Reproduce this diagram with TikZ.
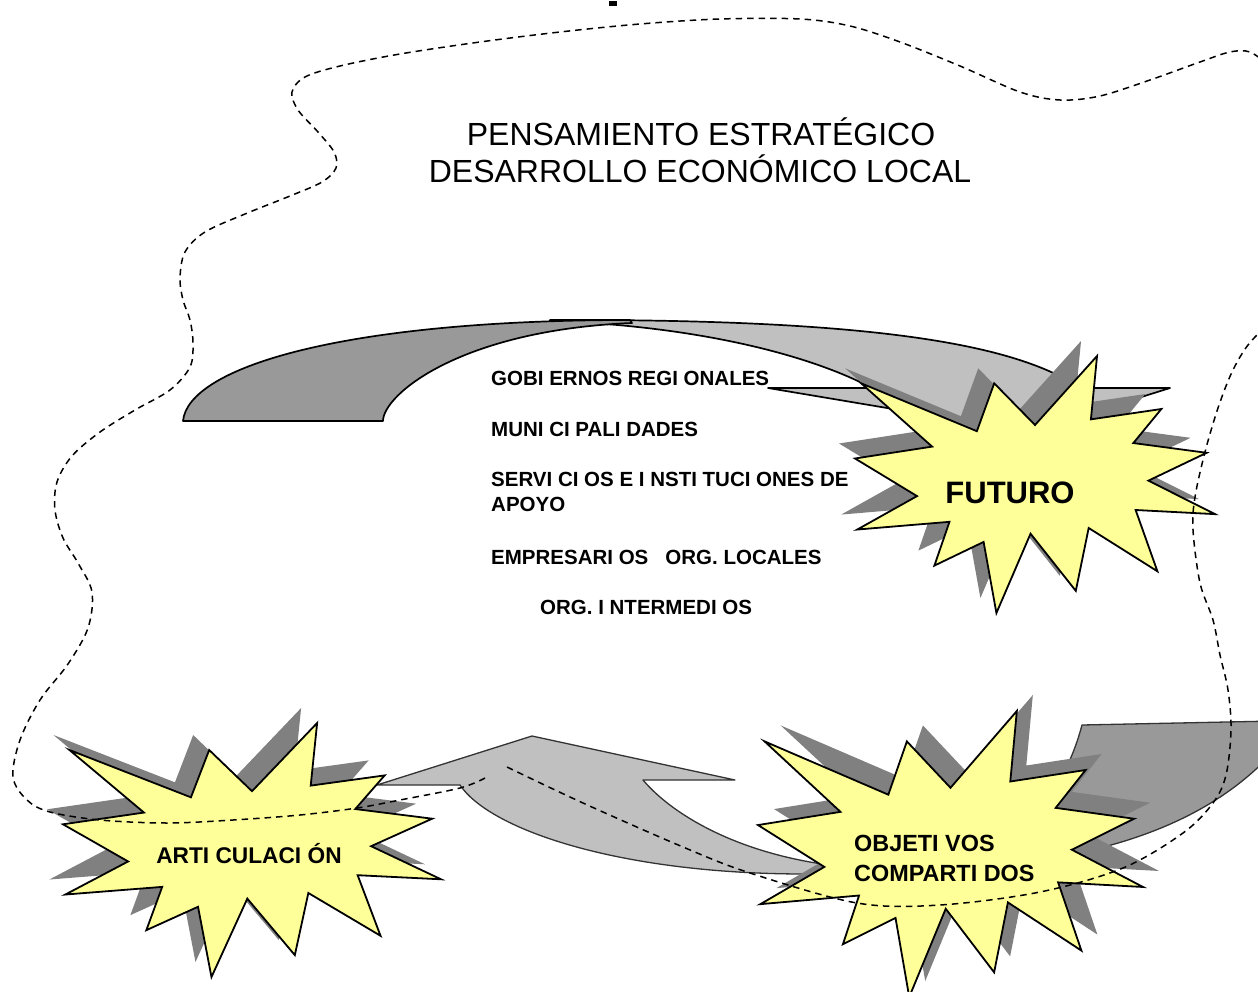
\documentclass[tikz,border=0pt]{standalone}
\usepackage{fontspec}
\setmainfont{Liberation Sans}
\definecolor{starfill}{HTML}{FFFF99}
\definecolor{shadowgray}{HTML}{808080}
\definecolor{darkband}{HTML}{999999}
\definecolor{lightband}{HTML}{C0C0C0}
\newcommand{\sealshape}[5]{%
\begin{scope}[shift={(#1,#2)},xscale=#3,yscale=#4]
\path[#5] (0.5,0.2685) -- (0.6723,0) -- (0.6553,0.2465) -- (0.8509,0.2063) -- (0.7732,0.3387) -- (0.9767,0.3767) -- (0.8151,0.4850) -- (1,0.6153) -- (0.7795,0.5992) -- (0.8400,0.8377) -- (0.6491,0.6693) -- (0.6133,0.9138) -- (0.4876,0.6914) -- (0.3928,1) -- (0.3572,0.7235) -- (0.2205,0.8156) -- (0.2624,0.6452) -- (0.00625,0.6753) -- (0.1723,0.5451) -- (0,0.3988) -- (0.2142,0.3526) -- (0.0171,0.1063) -- (0.3385,0.2926) -- (0.3867,0.1063) -- cycle;
\end{scope}}
\tikzset{
  listtext/.style={anchor=base west, inner sep=0pt, font=\fontsize{20.5}{24}\selectfont\bfseries},
  titletext/.style={anchor=base, inner sep=0pt, font=\fontsize{32}{37}\selectfont},
  startext/.style={anchor=base, inner sep=0pt},
  bandline/.style={line width=1.7pt, line join=round, draw=black},
  lowband/.style={line width=1.3pt, line join=round, draw=black!80},
  starline/.style={fill=starfill, draw=black, line width=1.8pt},
  outline/.style={line width=1.5pt, dash pattern=on 6.5pt off 5pt},
}
\begin{document}
\begin{tikzpicture}[x=1pt,y=-1pt]
\useasboundingbox (0,0) rectangle (1258,992);
\clip (0,0) rectangle (1258,992);
% small mark at top
\fill (609,1) rectangle (617,6);
% upper curved arrow
\path[bandline, fill=lightband] (550,320) .. controls (850,319) and (1010,340) .. (1080,388) -- (1170,388) -- (1030,432) -- (768,388) -- (872,388) .. controls (800,350) and (680,325) .. (550,321) -- cycle;
\path[bandline, fill=darkband] (183,421) .. controls (188,368) and (340,320) .. (630,320) -- (632,323) .. controls (460,330) and (383,395) .. (383,421) -- cycle;
% lower curved arrow
\path[lowband, fill=lightband] (377,785) -- (532,736) -- (735,780) -- (643,780) .. controls (670,812) and (730,850) .. (822,864) -- (845,878) -- (805,874) .. controls (620,874) and (490,830) .. (460,785) -- cycle;
% right dark arrow
\path[lowband, fill=darkband] (1082,725) -- (1275,721) -- (1275,750) .. controls (1230,800) and (1170,830) .. (1100,848) -- (1040,865) -- (1020,830) .. controls (1050,800) and (1070,770) .. (1082,725) -- cycle;
% stars with shadows
\sealshape{839}{341}{360}{257}{fill=shadowgray}
\sealshape{855}{356}{360}{257}{starline}
\sealshape{47}{708}{378}{254}{fill=shadowgray}
\sealshape{63}{723}{378}{254}{starline}
\sealshape{774}{695}{385}{286}{fill=shadowgray}
\sealshape{758}{711}{385}{286}{starline}
% texts
\node[titletext] (title1) at (701,146) {PENSAMIENTO ESTRATÉGICO};
\node[titletext] (title2) at (700,183) {DESARROLLO ECONÓMICO LOCAL};
\node[listtext] (gob) at (491,385) {GOBI ERNOS REGI ONALES};
\node[listtext] (mun) at (491,436.5) {MUNI CI PALI DADES};
\node[listtext] (serv) at (491,486) {SERVI CI OS E I NSTI TUCI ONES DE};
\node[listtext] (apoyo) at (491,511.5) {APOYO};
\node[listtext] (emp) at (491,564) {EMPRESARI OS\ \ \ ORG. LOCALES};
\node[listtext] (orgint) at (540,614) {ORG. I NTERMEDI OS};
\node[startext, font=\fontsize{31}{36}\selectfont\bfseries] (futuro) at (1010,503) {FUTURO};
\node[startext, font=\fontsize{22.7}{27}\selectfont\bfseries] (artic) at (249,863) {ARTI CULACI ÓN};
\node[anchor=base west, inner sep=0pt, font=\fontsize{23.4}{30}\selectfont\bfseries] (objet1) at (854,851.7) {OBJETI VOS};
\node[anchor=base west, inner sep=0pt, font=\fontsize{23.4}{30}\selectfont\bfseries] (objet2) at (854,881.7) {COMPARTI DOS};
% dashed outline
\draw[outline] plot[smooth, tension=0.55] coordinates {(1268,65) (1250,52) (1230,52) (1200,62) (1150,80) (1100,96) (1060,100) (1020,92) (960,66) (900,42) (850,26) (800,19) (720,19) (640,24) (560,32) (480,42) (400,54) (340,66) (305,77) (292,92) (298,110) (318,132) (334,152) (336,168) (322,182) (290,196) (245,214) (205,232) (185,252) (180,278) (183,300) (190,320) (193,343) (190,367) (170,390) (135,410) (100,432) (72,456) (57,482) (55,510) (63,538) (78,563) (92,592) (88,628) (68,664) (40,700) (20,740) (13,777) (27,800) (50,812) (100,820) (167,823) (233,820) (300,815) (357,808) (400,800) (460,788) (485,778)};
\draw[outline] plot[smooth, tension=0.55] coordinates {(507,767) (583,803) (683,847) (750,873) (857,903) (940,905) (1040,892) (1123,868) (1183,833) (1213,803) (1226,775) (1231,730) (1228,690) (1220,655) (1213,620) (1200,583) (1193,530) (1195,497) (1205,452) (1218,408) (1232,372) (1248,345) (1270,322)};
\end{tikzpicture}
\end{document}
